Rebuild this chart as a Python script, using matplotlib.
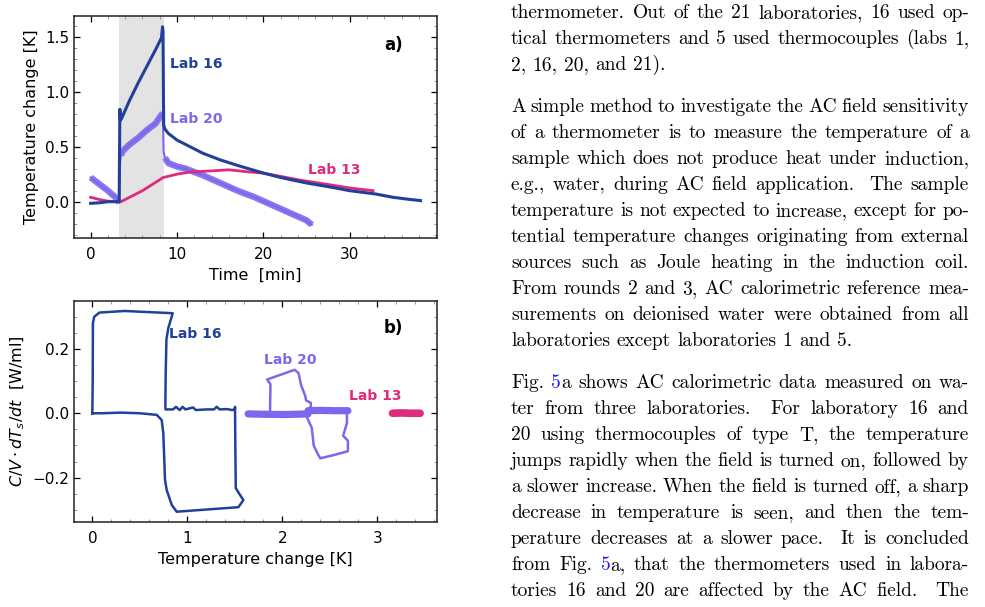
import re
import matplotlib
matplotlib.use("Agg")
import matplotlib.pyplot as plt
from matplotlib.ticker import MultipleLocator

# colours of the three labs
c16 = "#21409a"
c20 = "#7b68ee"
c13 = "#de2b7b"

# ---- panel a: temperature change vs time
t16 = [0, 1, 2, 3, 3.3, 3.38, 3.45, 3.6, 4.5, 5.5, 6.5, 7.5, 8.2, 8.32, 8.38, 8.45,
       8.6, 9, 10, 11, 12, 13, 15, 17, 20, 22, 25, 28, 30, 33, 35, 37, 38.2]
T16 = [-0.015, -0.01, 0.0, 0.0, 0.0, 0.84, 0.74, 0.76, 0.92, 1.08, 1.23, 1.38, 1.49, 1.59,
       1.55, 0.70, 0.66, 0.62, 0.56, 0.52, 0.48, 0.44, 0.38, 0.33, 0.26, 0.22, 0.17, 0.13,
       0.10, 0.07, 0.04, 0.02, 0.01]

t20 = [0, 0.5, 1, 2, 3, 3.3, 3.4, 3.5, 3.7, 4.5, 5.5, 6.5, 7.5, 8.2, 8.35, 8.45, 8.6,
       9, 10, 11, 12, 13, 15, 17, 19, 21, 23, 25, 25.6]
T20 = [0.22, 0.19, 0.16, 0.10, 0.03, -0.01, 0.35, 0.42, 0.46, 0.52, 0.58, 0.65, 0.71,
       0.79, 0.80, 0.45, 0.40, 0.35, 0.32, 0.30, 0.27, 0.24, 0.17, 0.10, 0.04, -0.03,
       -0.10, -0.17, -0.21]
noisy20 = [(0, 6), (7, 15), (16, 29)]   # index ranges of the noisy stretches

t13 = [0, 1, 2, 3, 3.5, 4, 4.5, 6, 7, 8.4, 10, 11.5, 14, 16, 18.4, 20, 22, 24, 26, 28,
       30, 32.7]
T13 = [0.04, 0.02, 0.005, 0.0, 0.0, 0.02, 0.04, 0.10, 0.15, 0.22, 0.25, 0.27, 0.28,
       0.29, 0.27, 0.26, 0.23, 0.20, 0.175, 0.15, 0.125, 0.10]

field_on = (3.3, 8.45)

# ---- panel b: C/V dTs/dt vs temperature change
x16b = [0.0, 0.004, 0.006, 0.02, 0.074, 0.34, 0.846, 0.80, 0.78, 0.772, 0.769, 0.77,
        0.85, 0.88, 0.92, 0.95, 0.98, 1.06, 1.09, 1.2, 1.28, 1.31, 1.34, 1.42, 1.47,
        1.50, 1.502, 1.505, 1.51, 1.59, 1.537, 0.888, 0.836, 0.783, 0.765, 0.747, 0.73,
        0.678, 0.5, 0.3, 0.1, 0.0]
y16b = [0.0, 0.10, 0.28, 0.30, 0.313, 0.318, 0.311, 0.265, 0.23, 0.12, 0.03, 0.012,
        0.012, 0.02, 0.01, 0.02, 0.012, 0.018, 0.01, 0.012, 0.012, 0.02, 0.012, 0.013,
        0.01, 0.012, 0.02, -0.10, -0.233, -0.27, -0.292, -0.306, -0.285, -0.239, -0.207,
        -0.062, -0.021, -0.005, 0.0, 0.002, 0.0, 0.0]

x20b_top = [1.87, 1.875, 1.84, 2.08, 2.13, 2.17, 2.20, 2.24, 2.25, 2.30, 2.30, 2.27]
y20b_top = [0.0, 0.09, 0.105, 0.13, 0.135, 0.125, 0.085, 0.055, 0.04, 0.032, 0.02, 0.012]
x20b_bot = [2.25, 2.27, 2.31, 2.33, 2.37, 2.40, 2.54, 2.69, 2.69, 2.64, 2.66, 2.68, 2.68]
y20b_bot = [-0.005, -0.02, -0.045, -0.10, -0.125, -0.14, -0.13, -0.118, -0.085, -0.07,
            -0.05, -0.03, 0.008]
x20b_band1 = [1.64, 1.8, 2.0, 2.15, 2.27]
y20b_band1 = [-0.002, -0.003, -0.004, -0.003, -0.002]
x20b_band2 = [2.27, 2.4, 2.55, 2.69]
y20b_band2 = [0.008, 0.009, 0.008, 0.008]

x13b = [3.16, 3.25, 3.35, 3.45]
y13b = [0.0, 0.001, 0.0, 0.0]

# ---- running text on the right
para1 = ["thermometer. Out of the 21 laboratories, 16 used op-",
         "tical thermometers and 5 used thermocouples (labs 1,",
         "2, 16, 20, and 21)."]
para2 = ["A simple method to investigate the AC field sensitivity",
         "of a thermometer is to measure the temperature of a",
         "sample which does not produce heat under induction,",
         "e.g., water, during AC field application.  The sample",
         "temperature is not expected to increase, except for po-",
         "tential temperature changes originating from external",
         "sources such as Joule heating in the induction coil.",
         "From rounds 2 and 3, AC calorimetric reference mea-",
         "surements on deionised water were obtained from all",
         "laboratories except laboratories 1 and 5."]
para3 = ["Fig. {5}a shows AC calorimetric data measured on wa-",
         "ter from three laboratories.  For laboratory 16 and",
         "20 using thermocouples of type T, the temperature",
         "jumps rapidly when the field is turned on, followed by",
         "a slower increase. When the field is turned off, a sharp",
         "decrease in temperature is seen, and then the tem-",
         "perature decreases at a slower pace.  It is concluded",
         "from Fig. {5}a, that the thermometers used in labora-",
         "tories 16 and 20 are affected by the AC field.  The"]
paragraphs = [para1, para2, para3]

W, H = 985, 607
fig = plt.figure(figsize=(W / 100, H / 100), dpi=100)


def style(ax):
    ax.tick_params(which="both", direction="in", top=True, right=True, labelsize=11)
    ax.tick_params(which="major", length=4.5, width=0.9)
    ax.tick_params(which="minor", length=2.5, width=0.6, color="#888888")
    ax.tick_params(axis="x", pad=6.5)
    for s in ax.spines.values():
        s.set_linewidth(1.1)
        s.set_color("#222222")


# panel a
ax1 = fig.add_axes([74 / W, 1 - 238 / H, 363 / W, 222 / H])
ax1.axvspan(*field_on, color="#e3e3e3", lw=0, zorder=0)
ax1.plot(t20, T20, color=c20, lw=1.5, zorder=2)
for i0, i1 in noisy20:
    ax1.plot(t20[i0:i1], T20[i0:i1], color=c20, lw=4.6, alpha=0.9, zorder=2,
             solid_capstyle="butt")
ax1.plot(t13, T13, color=c13, lw=2.0, zorder=3)
ax1.plot(t16, T16, color=c16, lw=2.2, zorder=4)
ax1.set_xlim(-1.93, 40.1)
ax1.set_ylim(-0.33, 1.688)
ax1.set_xticks([0, 10, 20, 30])
ax1.set_yticks([0.0, 0.5, 1.0, 1.5])
ax1.xaxis.set_minor_locator(MultipleLocator(2))
ax1.yaxis.set_minor_locator(MultipleLocator(0.1))
ax1.set_xlabel("Time  [min]", fontsize=11.5)
ax1.set_ylabel("Temperature change [K]", fontsize=11.5)
ax1.text(9.2, 1.25, "Lab 16", color=c16, fontsize=10, fontweight="bold", va="center")
ax1.text(9.2, 0.75, "Lab 20", color=c20, fontsize=10, fontweight="bold", va="center")
ax1.text(25.2, 0.29, "Lab 13", color=c13, fontsize=10, fontweight="bold", va="center")
ax1.text(0.905, 0.87, "a)", transform=ax1.transAxes, fontsize=12, fontweight="bold",
         ha="right", va="center")
style(ax1)

# panel b
ax2 = fig.add_axes([74 / W, 1 - 522 / H, 363 / W, 221 / H])
ax2.plot(x16b, y16b, color=c16, lw=1.8, zorder=4)
ax2.plot(x20b_band1, y20b_band1, color=c20, lw=5.2, solid_capstyle="round", zorder=2)
ax2.plot(x20b_band2, y20b_band2, color=c20, lw=5.2, solid_capstyle="round", zorder=2)
ax2.plot(x20b_top, y20b_top, color=c20, lw=1.8, zorder=2)
ax2.plot(x20b_bot, y20b_bot, color=c20, lw=1.8, zorder=2)
ax2.plot(x13b, y13b, color=c13, lw=5.5, solid_capstyle="round", zorder=3)
ax2.set_xlim(-0.193, 3.628)
ax2.set_ylim(-0.338, 0.349)
ax2.set_xticks([0, 1, 2, 3])
ax2.set_yticks([-0.2, 0.0, 0.2])
ax2.xaxis.set_minor_locator(MultipleLocator(0.2))
ax2.yaxis.set_minor_locator(MultipleLocator(0.05))
ax2.set_xlabel("Temperature change [K]", fontsize=11.5)
ax2.set_ylabel(r"$C/V\cdot dT_s/dt$  [W/ml]", fontsize=11.5)
ax2.text(0.807, 0.246, "Lab 16", color=c16, fontsize=10, fontweight="bold", va="center")
ax2.text(1.81, 0.166, "Lab 20", color=c20, fontsize=10, fontweight="bold", va="center")
ax2.text(2.705, 0.055, "Lab 13", color=c13, fontsize=10, fontweight="bold", va="center")
ax2.text(0.905, 0.878, "b)", transform=ax2.transAxes, fontsize=12, fontweight="bold",
         ha="right", va="center")
style(ax2)

# justified text column
renderer = fig.canvas.get_renderer()
fs = 14
x_left, x_right = 511, 969
space = 0.333 * fs * 100 / 72
link = "#1a1aff"


def make_word(tok, y):
    parts = re.findall(r"\{([^}]*)\}|([^{}]+)", tok)
    items = []
    for blue, plain in parts:
        s, col = (blue, link) if blue else (plain, "black")
        t = fig.text(0, 1 - y / H, s, family="cmr10", fontsize=fs, color=col,
                     va="baseline", ha="left")
        items.append((t, t.get_window_extent(renderer).width))
    return items


line_no = 0
for p, para in enumerate(paragraphs):
    for k, line in enumerate(para):
        y = 18 + line_no * 26 + p * 16
        toks = re.split(r"( +)", line)
        words = [make_word(tk, y) for tk in toks[0::2]]
        gaps = [len(g) for g in toks[1::2]]
        widths = [sum(w for _, w in wd) for wd in words]
        last = k == len(para) - 1 and p < 2
        if last or not gaps:
            unit = space
        else:
            unit = (x_right - x_left - sum(widths)) / sum(gaps)
        x = x_left
        for j, wd in enumerate(words):
            xx = x
            for t, w in wd:
                t.set_x(xx / W)
                xx += w
            x += widths[j]
            if j < len(gaps):
                x += unit * (gaps[j] if not last else (1 + 0.4 * (gaps[j] - 1)))
        line_no += 1

fig.savefig("out.png", dpi=100)
